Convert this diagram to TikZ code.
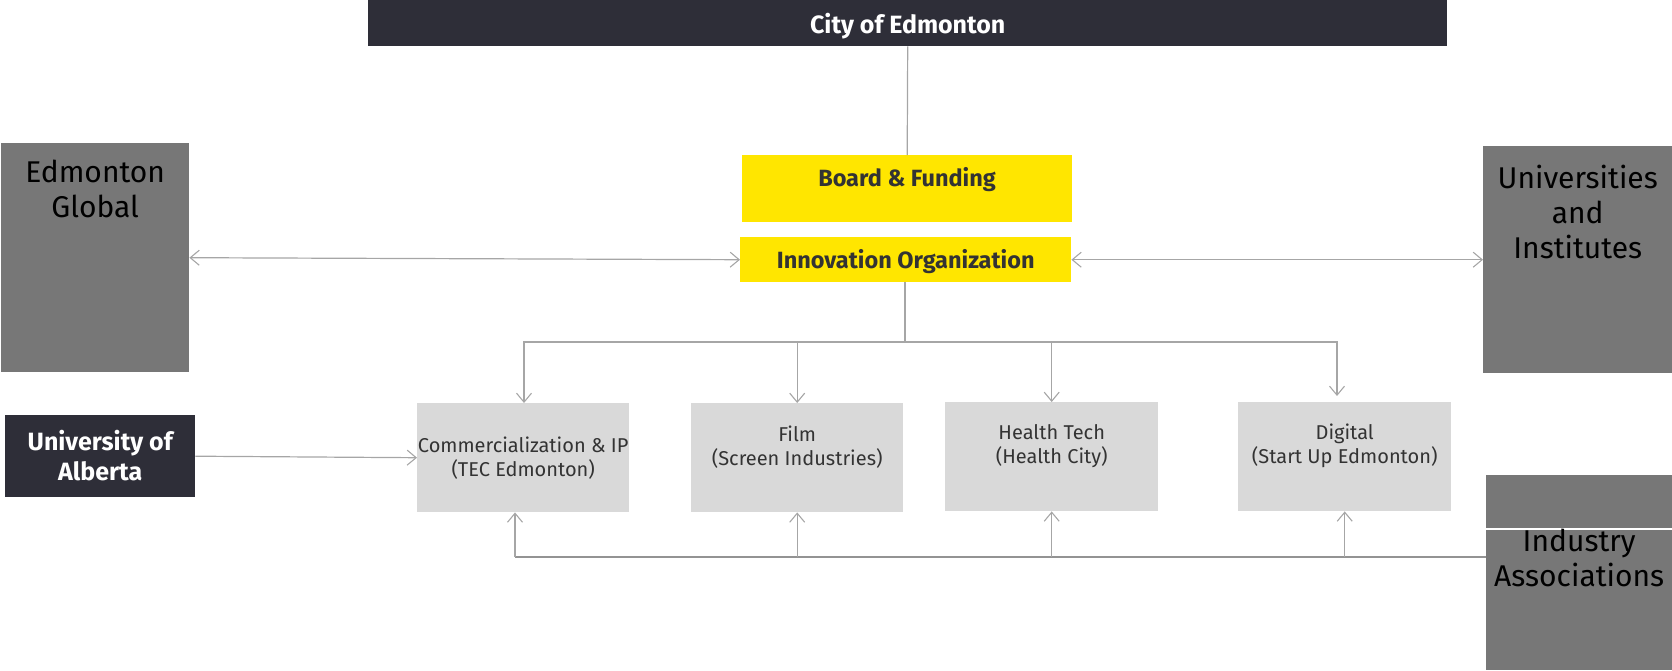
\documentclass[tikz,border=0pt]{standalone}
\usepackage{fontspec}
\setmainfont{Fira Sans}
\usetikzlibrary{arrows.meta}
\definecolor{eydark}{HTML}{2E2E38}
\definecolor{eyyellow}{HTML}{FFE600}
\definecolor{midgray}{HTML}{777777}
\definecolor{lightgray}{HTML}{D9D9D9}
\definecolor{linegray}{HTML}{A6A6A6}
\definecolor{txtdark}{HTML}{333333}
\tikzset{
  box/.style={rectangle, inner sep=0pt, anchor=north west},
  darkbox/.style={box, fill=eydark},
  darktxt/.style={inner sep=0pt, text=white, align=center, font=\bfseries\fontsize{25}{30}\selectfont},
  yelbox/.style={box, fill=eyyellow},
  yeltxt/.style={inner sep=0pt, text=txtdark, font=\bfseries\fontsize{23.5}{28}\selectfont},
  graybig/.style={box, fill=midgray},
  bigtxt/.style={inner sep=0pt, anchor=north, text=black, align=center, font=\fontsize{30}{35}\selectfont},
  subbox/.style={box, fill=lightgray, minimum width=212pt, minimum height=109pt},
  subtxt/.style={inner sep=0pt, text=txtdark, align=center, font=\fontsize{20}{24}\selectfont},
  conn/.style={draw=linegray, line width=1.2pt},
  arr/.style={conn, -{Straight Barb[length=9pt,width=15pt,line width=1.1pt]}},
  dbl/.style={conn, {Straight Barb[length=9pt,width=15pt,line width=1.1pt]}-{Straight Barb[length=9pt,width=15pt,line width=1.1pt]}}
}
\begin{document}
\begin{tikzpicture}[x=1pt,y=-1pt]
\useasboundingbox (0,0) rectangle (1672,670);
% top bar
\node[darkbox, minimum width=1079pt, minimum height=46pt] (city) at (368,0) {};
\node[darktxt, font=\bfseries\fontsize{25}{30}\selectfont] (cityt) at ([yshift=-3pt]city.center) {City of Edmonton};
% yellow boxes
\node[yelbox, minimum width=330pt, minimum height=67pt] (board) at (742,155) {};
\node[yeltxt] (boardt) at (907,180) {Board \& Funding};
\node[yelbox, minimum width=331pt, minimum height=45pt] (innov) at (740,237) {};
\node[yeltxt] (innovt) at ([yshift=-2pt]innov.center) {Innovation Organization};
% side boxes
\node[graybig, minimum width=188pt, minimum height=229pt] (eg) at (1,143) {};
\node[bigtxt] (egt) at ([yshift=-17pt]eg.north) {Edmonton\\Global};
\node[graybig, minimum width=189pt, minimum height=227pt] (uni) at (1483,146) {};
\node[bigtxt] (unit) at ([yshift=-19pt]uni.north) {Universities\\and\\Institutes};
\node[graybig, minimum width=186pt, minimum height=195pt] (ind) at (1486,475) {};
\draw[white, line width=1.2pt] (ind.west |- 0,529) coordinate (indl) -- (ind.east |- indl);
\node[bigtxt] (indt) at ([yshift=-54pt]ind.north) {Industry\\Associations};
% University of Alberta
\node[darkbox, minimum width=190pt, minimum height=82pt] (ua) at (5,415) {};
\node[darktxt] (uat) at ([yshift=1pt]ua.center) {University of\\Alberta};
% sub boxes
\node[subbox] (com) at (417,403) {};
\node[subtxt] (comt) at (com.center) {Commercialization \& IP\\(TEC Edmonton)};
\node[subbox] (film) at (691,403) {};
\node[subtxt] (filmt) at ([yshift=11pt]film.center) {Film\\(Screen Industries)};
\node[subbox, minimum width=213pt] (health) at (945,402) {};
\node[subtxt] (healtht) at ([yshift=11pt]health.center) {Health Tech\\(Health City)};
\node[subbox, minimum width=213pt] (digital) at (1238,402) {};
\node[subtxt] (digitalt) at ([yshift=11pt]digital.center) {Digital\\(Start Up Edmonton)};
% connectors
\draw[conn] (city.south) -- (board.north);
\coordinate (hub) at (905,342);
\draw[conn] (innov.south -| hub) -- (hub);
\coordinate (comtop) at (524,403);
\coordinate (digtop) at (1337,396);
\draw[arr] (hub) -| (comtop);
\draw[arr] (hub) -| (film.north);
\draw[arr] (hub) -| (health.north);
\draw[arr] (hub) -| (digtop);
\draw[dbl] (eg.east) -- (innov.west);
\draw[dbl] (innov.east) -- (uni.west);
\draw[arr] (ua.east) -- (com.west);
% bottom bus
\coordinate (busR) at (1486,557);
\coordinate (busL) at (515,557);
\draw[conn, draw=gray!85, line width=2pt] (busR) -- (busL);
\draw[arr] (busL) -- (busL |- com.south);
\draw[arr] (film.south |- busL) -- (film.south);
\draw[arr] (health.south |- busL) -- (health.south);
\draw[arr] (digital.south |- busL) -- (digital.south);
\end{tikzpicture}
\end{document}
